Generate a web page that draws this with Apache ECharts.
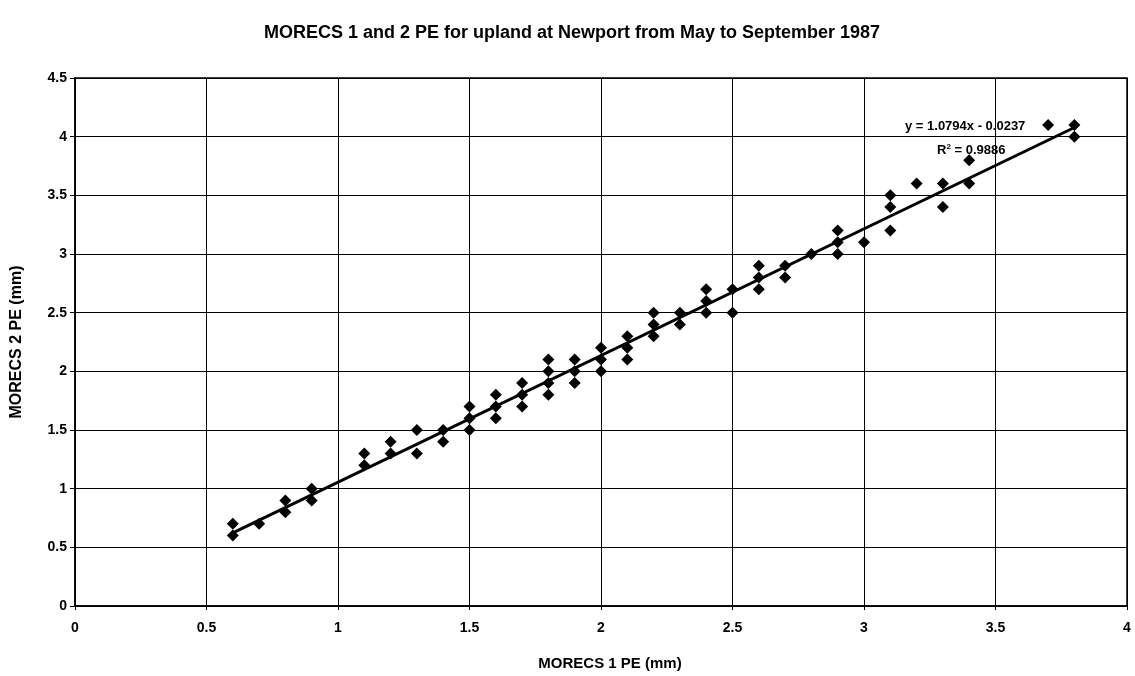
<!DOCTYPE html>
<html>
<head>
<meta charset="utf-8">
<script src="https://cdn.jsdelivr.net/npm/echarts@6/dist/echarts.min.js"></script>
<style>
html,body{margin:0;padding:0;background:#fff;}
#chart{width:1135px;height:676px;}
</style>
</head>
<body>
<div id="chart"></div>
<script>
// MORECS 1 PE (mm) values, one per observation
const morecs1 = [
  0.6, 0.6, 0.7, 0.8, 0.8, 0.9, 0.9,
  1.1, 1.1, 1.2, 1.2, 1.3, 1.3, 1.4, 1.4,
  1.5, 1.5, 1.5, 1.6, 1.6, 1.6, 1.7, 1.7, 1.7,
  1.8, 1.8, 1.8, 1.8, 1.9, 1.9, 1.9, 2.0, 2.0, 2.0,
  2.1, 2.1, 2.1, 2.2, 2.2, 2.2, 2.3, 2.3, 2.4, 2.4, 2.4,
  2.5, 2.5, 2.6, 2.6, 2.6, 2.7, 2.7, 2.8, 2.9, 2.9, 2.9,
  3.0, 3.1, 3.1, 3.1, 3.2, 3.3, 3.3, 3.4, 3.4, 3.7, 3.8, 3.8
];
// MORECS 2 PE (mm) values, matching morecs1
const morecs2 = [
  0.7, 0.6, 0.7, 0.9, 0.8, 1.0, 0.9,
  1.3, 1.2, 1.4, 1.3, 1.5, 1.3, 1.5, 1.4,
  1.7, 1.6, 1.5, 1.8, 1.7, 1.6, 1.9, 1.8, 1.7,
  2.1, 2.0, 1.9, 1.8, 2.1, 2.0, 1.9, 2.2, 2.1, 2.0,
  2.3, 2.2, 2.1, 2.5, 2.4, 2.3, 2.5, 2.4, 2.7, 2.6, 2.5,
  2.7, 2.5, 2.9, 2.8, 2.7, 2.9, 2.8, 3.0, 3.2, 3.1, 3.0,
  3.1, 3.5, 3.4, 3.2, 3.6, 3.6, 3.4, 3.8, 3.6, 4.1, 4.1, 4.0
];
// Linear trendline as printed on the chart
const trendSlope = 1.0794;
const trendIntercept = -0.0237;
const trendR2Text = "0.9886";
const xTicks = [0, 0.5, 1, 1.5, 2, 2.5, 3, 3.5, 4];
const yTicks = [0, 0.5, 1, 1.5, 2, 2.5, 3, 3.5, 4, 4.5];

const points = morecs1.map((x, i) => [x, morecs2[i]]);
const xMin = Math.min(...morecs1), xMax = Math.max(...morecs1);
const trend = [
  [xMin, trendSlope * xMin + trendIntercept],
  [xMax, trendSlope * xMax + trendIntercept]
];

const FONT = '"Liberation Sans", Arial, sans-serif';
const chart = echarts.init(document.getElementById('chart'), null, {renderer: 'canvas'});
chart.setOption({
  backgroundColor: '#ffffff',
  animation: false,
  title: {
    text: 'MORECS 1 and 2 PE for upland at Newport from May to September 1987',
    left: 567, top: 19, textAlign: 'center',
    textStyle: {fontFamily: FONT, fontWeight: 'bold', fontSize: 18, color: '#000'}
  },
  grid: {left: 75, right: 8, top: 78, bottom: 68, show: true, borderColor: '#000', borderWidth: 1.5},
  xAxis: {
    type: 'value', min: 0, max: 4, interval: 0.5,
    name: 'MORECS 1 PE (mm)', nameLocation: 'middle', nameGap: 50,
    nameTextStyle: {fontFamily: FONT, fontWeight: 'bold', fontSize: 15, color: '#000', padding: [0, 0, 0, 18]},
    axisLine: {show: true, lineStyle: {color: '#000', width: 1.5}},
    axisTick: {show: true, inside: false, length: 4, lineStyle: {color: '#000'}},
    axisLabel: {fontFamily: FONT, fontWeight: 'bold', fontSize: 14, color: '#000', margin: 15,
      formatter: v => xTicks.includes(v) ? String(v) : ''},
    splitLine: {show: true, lineStyle: {color: '#000', width: 1}}
  },
  yAxis: {
    type: 'value', min: 0, max: 4.5, interval: 0.5,
    name: 'MORECS 2 PE (mm)', nameLocation: 'middle', nameGap: 50, nameRotate: 90,
    nameTextStyle: {fontFamily: FONT, fontWeight: 'bold', fontSize: 16, color: '#000'},
    axisLine: {show: true, lineStyle: {color: '#000', width: 1.5}},
    axisTick: {show: true, inside: false, length: 5, lineStyle: {color: '#000'}},
    axisLabel: {fontFamily: FONT, fontWeight: 'bold', fontSize: 14, color: '#000', margin: 8,
      formatter: v => yTicks.includes(v) ? String(v) : ''},
    splitLine: {show: true, lineStyle: {color: '#000', width: 1}}
  },
  series: [
    {
      type: 'scatter', data: points, symbol: 'diamond', symbolSize: 12,
      itemStyle: {color: '#000', opacity: 1}, z: 3
    },
    {
      type: 'line', data: trend, symbol: 'none', lineStyle: {color: '#000', width: 3}, z: 4
    }
  ],
  graphic: [
    {type: 'text', left: 905, top: 120, z: 10,
      style: {text: 'y = 1.0794x - 0.0237', font: 'bold 13px ' + FONT, fill: '#000'}},
    {type: 'text', left: 937, top: 143, z: 10,
      style: {rich: {a: {font: 'bold 13px ' + FONT, fill: '#000'}, s: {font: 'bold 8px ' + FONT, fill: '#000', verticalAlign: 'top', padding: [0,0,6,0]}},
        text: '{a|R}{s|2}{a| = ' + trendR2Text + '}'}}
  ]
});
</script>
</body>
</html>
